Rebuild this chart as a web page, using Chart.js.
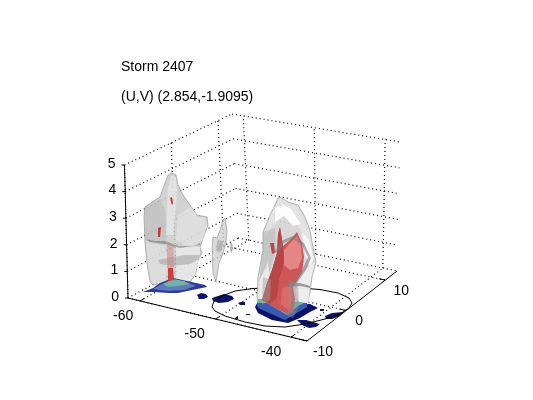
<!DOCTYPE html>
<html>
<head>
<meta charset="utf-8">
<style>html,body{margin:0;background:#fff}canvas{display:block}</style>
<script src="https://cdn.jsdelivr.net/npm/chart.js@4/dist/chart.umd.min.js"></script>
</head>
<body>
<canvas id="stormChart" width="533" height="400"></canvas>
<script>
const titleLines = ['Storm 2407', '(U,V) (2.854,-1.9095)'];
const xTicks = [-60, -50, -40];
const yTicks = [-10, 0, 10];
const zTicks = [0, 1, 2, 3, 4, 5];
const xRange = [-61.6, -37.9];
const yRange = [-10, 13];
const zRange = [0, 5];

// where the eight box corners land in the picture (orthographic-ish camera)
const floorCorners = [[128, 298], [307, 341], [397, 271], [238, 238]];
const roofCorners = [[124.5, 165], [305, 208], [400, 142], [232, 114]];

// outlines, as view coordinates
const ringOutline = [[212,307],[214,301],[222,296],[235,291],[253,288.5],[277,287.5],[300,288],[320,289.5],[338,293],[349,298],[352,303],[349,308],[340,314],[325,319],[305,324],[285,327],[265,326],[245,322],[225,316],[215,311]];

const floorPatches = [
  [[197,295],[201,293],[206,294],[208,297],[204,299],[199,299]],
  [[212,298],[218,296],[224,294],[232,296],[234,299],[228,302],[219,303],[213,301]],
  [[238,303],[241,302],[245,302],[245,305],[240,305]],
  [[236,317],[238,316],[238,319],[235,319]],
  [[246,314],[250,314],[250,315],[246,315]],
  [[263,309],[266,309],[266,311],[263,311]],
  [[297,320],[306,320],[313,322],[320,324],[316,327],[309,328],[302,325]],
  [[325,316],[332,313],[343,312],[340,316],[332,319],[326,319]],
  [[307,308],[312,306],[316,307],[314,310],[309,311]],
  [[320,309],[324,309],[324,311],[320,311]]
];

const leftBase = [[143,292],[153,288],[160,283],[173,278],[187,281],[205,285],[207,287],[192,290],[178,293],[168,293],[155,292]];
const leftBaseSteel = [[153,289],[162,284],[173,280],[186,282],[196,286],[184,290],[168,291]];
const leftBaseTeal = [[163,284],[173,279],[184,281],[190,284],[178,286],[168,287]];

const leftHull = [[172,173],[176,175],[178,185],[183,195],[190,205],[197,215],[207,217],[208,225],[205,233],[200,247],[202,253],[198,260],[196,273],[193,278],[190,282],[177,283],[153,285],[150,282],[147,263],[145,243],[144,217],[145,207],[152,202],[160,197],[165,183],[168,175]];
const leftColumn = [[145,207],[152,203],[160,199],[165,210],[167,235],[165,245],[145,240]];
const leftColumnLow = [[146,243],[165,246],[168,262],[165,283],[152,284],[148,265]];
const leftSpine = [[172,174],[176,178],[177,190],[176,205],[173,235],[166,235],[167,205],[168,188]];
const leftShoulder = [[178,215],[191,207],[198,217],[205,218],[207,226],[203,240],[188,247],[176,240]];
const leftLowerRight = [[176,246],[200,247],[200,258],[195,275],[190,281],[176,281]];
const leftBand = [[146,239],[155,241],[165,241],[178,246],[195,246],[200,243],[200,245],[180,248],[165,244],[150,242]];
const leftRing = [[158,260],[172,257],[185,255],[200,255],[199,259],[190,264],[172,266],[160,264]];
const leftRedCore = [[168,268],[173,268],[174,280],[168,281]];
const leftRedGhost = [[167,245],[173,245],[174,268],[167,268]];
const leftRedChip = [[170,198],[172,197],[173,203],[172,205],[171,202]];
const leftRedSide = [[158,228],[161,227],[160,237],[158,237]];

const midSpike = [[225,218],[227,230],[226,243],[223,253],[219,263],[216,282],[213,273],[212,250],[213,237],[217,238],[220,230],[223,220]];
const midCore = [[218,240],[223,241],[222,250],[218,253],[216,247]];
const midChip = [[230,243],[232,242],[233,248],[232,253],[230,251]];

const rightBaseNavy = [[255,307],[258,301],[310,304],[318,308],[310,312],[300,318],[288,323],[272,320],[258,313]];
const rightBaseBlue = [[258,300],[307,303],[307,307],[285,320],[258,308]];
const rightBaseGreen = [[258,299],[268,299],[278,304],[287,310],[297,301],[304,303],[298,306],[287,315],[277,309],[267,303],[258,303]];

const rightHull = [[280,197],[288,202],[298,205],[305,217],[310,230],[313,247],[316,262],[312,277],[310,293],[307,305],[287,318],[258,307],[257,297],[258,277],[263,250],[263,232],[270,215],[275,205],[278,198]];
const rightCap = [[280,198],[288,203],[297,206],[304,218],[309,231],[312,247],[306,240],[296,222],[285,215],[272,226],[265,236],[270,216],[276,205]];
const rightGlow = [[275,208],[283,205],[291,209],[301,224],[293,226],[284,216],[275,222]];
const rightSideGlow = [[302,232],[309,240],[314,258],[310,268],[305,255]];
const rightGrayLeft = [[263,232],[275,228],[276,250],[270,270],[260,278]];
const rightLowerLeft = [[259,282],[268,262],[270,280],[264,300],[258,303]];
const rightLowerRight = [[299,275],[315,262],[311,278],[308,304],[298,305],[296,290]];

const redBody = [[280,227],[283,246],[290,240],[297,232],[302,243],[304,257],[302,273],[293,287],[295,300],[293,312],[287,314],[270,305],[262,300],[267,283],[272,270],[277,253],[278,234]];
const redShadow = [[280,227],[283,246],[284,262],[279,280],[277,298],[270,304],[262,300],[267,283],[272,270],[277,253],[278,234]];
const redGlow = [[284,250],[291,242],[297,236],[301,246],[302,258],[298,268],[290,270],[284,265]];
const redGlowLow = [[282,288],[291,285],[292,300],[288,310],[281,304]];
const redChip = [[270,243],[274,243],[275,253],[272,254]];
const rightArc = [[274,252],[283,240],[293,236],[304,243],[311,258],[306,270],[297,283],[289,285],[296,279],[304,266],[308,257],[302,245],[293,239],[284,243],[277,253]];
const rightLedge = [[288,284],[300,283],[310,286],[310,288],[300,286],[288,287]];
const rightStrip = [[289,280],[298,283],[299,306],[293,318],[288,316]];
const rightStripLeft = [[263,277],[271,280],[270,300],[262,305]];

const navy = '#0b1464';
const layerOrder = floorPatches.map(p => [p, navy]).concat([
  [leftHull, 'rgba(200,200,200,0.82)', 'rgba(120,120,120,0.5)'], [leftColumn, 'rgba(170,170,170,0.3)'],
  [leftColumnLow, 'rgba(230,230,230,0.55)'], [leftSpine, 'rgba(235,235,235,0.65)'],
  [leftShoulder, 'rgba(232,232,232,0.6)'], [leftLowerRight, 'rgba(245,245,245,0.6)'],
  [leftBand, 'rgba(120,120,120,0.6)'], [leftRing, 'rgba(160,160,160,0.55)'],
  [leftRedGhost, 'rgba(215,130,130,0.5)'], [leftBase, '#2a3c98'], [leftBaseSteel, '#5f7cb6'], [leftBaseTeal, '#78b0a8'],
  [leftRedCore, '#c8403c'], [leftRedChip, '#c03838'], [leftRedSide, '#c03838'],
  [midSpike, 'rgba(205,205,205,0.75)', 'rgba(140,140,140,0.6)'], [midCore, 'rgba(165,165,165,0.7)'], [midChip, 'rgba(175,175,175,0.8)'],
  [rightBaseNavy, navy],
  [rightHull, 'rgba(212,212,212,0.9)', 'rgba(130,130,130,0.5)'], [rightCap, 'rgba(228,228,228,0.9)'], [rightGlow, 'rgba(255,255,255,0.92)'],
  [rightSideGlow, 'rgba(250,250,250,0.85)'], [rightGrayLeft, 'rgba(165,165,165,0.35)'],
  [rightLowerLeft, 'rgba(245,245,245,0.7)'], [rightLowerRight, 'rgba(245,245,245,0.75)'],
  [rightBaseBlue, '#3a5ab0'], [rightBaseGreen, '#6fb8a0'],
  [redBody, '#cf5656'], [redShadow, '#b84646'], [redGlow, '#e48686'], [redGlowLow, '#dc6868'], [redChip, '#b84848'],
  [rightArc, 'rgba(125,125,125,0.6)'], [rightLedge, 'rgba(120,120,120,0.7)'],
  [rightStrip, 'rgba(150,150,150,0.4)'], [rightStripLeft, 'rgba(160,160,160,0.45)']
]);

function lerp(a, b, t) { return a + (b - a) * t; }

// trilinear lookup into the box corners
function project(x, y, z) {
  const u = (x - xRange[0]) / (xRange[1] - xRange[0]);
  const v = (y - yRange[0]) / (yRange[1] - yRange[0]);
  const w = (z - zRange[0]) / (zRange[1] - zRange[0]);
  const at = (c, i) => lerp(lerp(c[0][i], c[1][i], u), lerp(c[3][i], c[2][i], u), v);
  return { x: lerp(at(floorCorners, 0), at(roofCorners, 0), w), y: lerp(at(floorCorners, 1), at(roofCorners, 1), w) };
}

function segment(a, b, extra) {
  return Object.assign({
    data: [project(a[0], a[1], a[2]), project(b[0], b[1], b[2])],
    showLine: true, pointRadius: 0, borderColor: '#000', borderWidth: 1, fill: false
  }, extra);
}

const dotted = { borderDash: [1, 3], borderWidth: 1.2 };
const [x0, x1] = xRange, [y0, y1] = yRange, [z0, z1] = zRange;

const gridSets = [];
xTicks.forEach(t => {
  gridSets.push(segment([t, y0, 0], [t, y1, 0], dotted));
  gridSets.push(segment([t, y1, 0], [t, y1, z1], dotted));
});
yTicks.forEach(t => {
  gridSets.push(segment([x0, t, 0], [x1, t, 0], dotted));
  gridSets.push(segment([x0, t, 0], [x0, t, z1], dotted));
});
zTicks.forEach(t => {
  gridSets.push(segment([x0, y0, t], [x0, y1, t], dotted));
  gridSets.push(segment([x0, y1, t], [x1, y1, t], dotted));
});

const axisSets = [
  segment([x0, y0, 0], [x1, y0, 0]),
  segment([x1, y0, 0], [x1, y1, 0]),
  segment([x0, y0, 0], [x0, y0, z1])
];
xTicks.forEach(t => axisSets.push(segment([t, y0, 0], [t, y0 + 0.9, 0])));
yTicks.forEach(t => axisSets.push(segment([x1, t, 0], [x1 - 0.9, t, 0])));
zTicks.forEach(t => {
  const p = project(x0, y0, t);
  axisSets.push({ data: [{ x: p.x - 3, y: p.y }, p], showLine: true, pointRadius: 0, borderColor: '#000', borderWidth: 1, fill: false });
});

function toPoints(outline) { return outline.map(p => ({ x: p[0], y: p[1] })); }

const blobSets = layerOrder.map(layer => ({
  data: toPoints(layer[0].concat([layer[0][0]])), showLine: true, pointRadius: 0,
  borderWidth: layer[2] ? 1 : 0, borderColor: layer[2] || 'transparent',
  backgroundColor: layer[1], fill: 'shape'
}));

const ringSet = {
  data: toPoints(ringOutline.concat([ringOutline[0]])), showLine: true, pointRadius: 0,
  borderColor: '#000', borderWidth: 1, fill: false
};

// right-hand storm is drawn over the ring, the floor patches and left storm under it
const ringSlot = layerOrder.findIndex(layer => layer[0] === rightBaseNavy);
const stack = gridSets.concat(blobSets.slice(0, ringSlot), [ringSet], blobSets.slice(ringSlot), axisSets);
stack.forEach((set, i) => { set.order = stack.length - i; });

const labelPlugin = {
  id: 'labels',
  afterDraw(chart) {
    const { ctx, scales } = chart;
    const put = (text, vx, vy, align) => {
      ctx.textAlign = align;
      ctx.textBaseline = 'middle';
      ctx.fillText(text, scales.x.getPixelForValue(vx), scales.y.getPixelForValue(vy));
    };
    ctx.save();
    ctx.fillStyle = '#000';
    ctx.font = '14px "Liberation Sans", sans-serif';
    put(titleLines[0], 121, 67, 'left');
    put(titleLines[1], 121, 97, 'left');
    zTicks.forEach(t => { const p = project(x0, y0, t); put(String(t), p.x - 9, p.y - 1, 'right'); });
    xTicks.forEach(t => { const p = project(t, y0, 0); put(String(t), p.x - 18 + (t === -60 ? 1 : t === -50 ? -3 : -2), p.y + 15, 'center'); });
    yTicks.forEach(t => { const p = project(x1, t, 0); put(String(t), p.x + 16 + (t === 0 ? -3 : 0), p.y + 11, 'center'); });
    ctx.restore();
  }
};

new Chart(document.getElementById('stormChart').getContext('2d'), {
  type: 'scatter',
  data: { datasets: stack },
  options: {
    responsive: false,
    animation: false,
    layout: { padding: 0 },
    plugins: { legend: { display: false }, tooltip: { enabled: false } },
    elements: { line: { tension: 0 } },
    scales: {
      x: { type: 'linear', min: 0, max: 533, display: false },
      y: { type: 'linear', min: 0, max: 400, reverse: true, display: false }
    }
  },
  plugins: [labelPlugin]
});
</script>
</body>
</html>
